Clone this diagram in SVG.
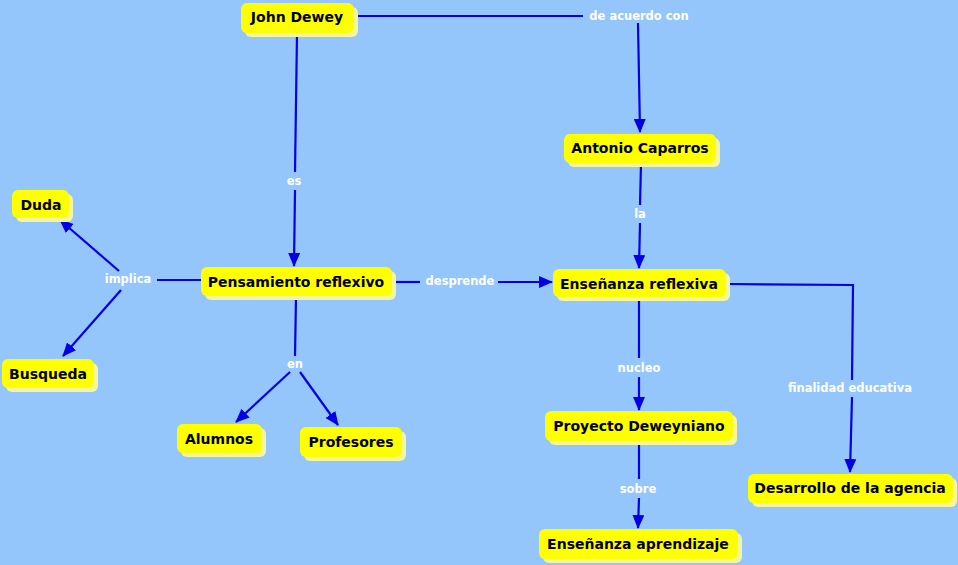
<svg xmlns="http://www.w3.org/2000/svg" width="958" height="565" viewBox="0 0 958 565">
<defs>
<style>
.sh{fill:#F5F59C;}
.bx{fill:#FFFF00;}
.nt{font-family:"DejaVu Sans",Verdana,sans-serif;font-weight:bold;font-size:14px;fill:#000;text-anchor:middle;dominant-baseline:central;}
.lt{font-family:"DejaVu Sans",Verdana,sans-serif;font-weight:bold;font-size:11.5px;fill:#FFFFFF;text-anchor:middle;dominant-baseline:central;}
.ln{stroke:#0000E6;stroke-width:2.2;fill:none;}
.ar{stroke:#0000E6;stroke-width:2.2;fill:none;marker-end:url(#ah);}
</style>
<marker id="ah" viewBox="0 0 14 12" refX="13" refY="6" markerWidth="14" markerHeight="12" markerUnits="userSpaceOnUse" orient="auto">
<path d="M0,0 L14,6 L0,12 Z" fill="#0000E6"/>
</marker>
</defs>
<rect width="958" height="565" fill="#95C6FB"/>
<g id="connectors">
<path class="ln" d="M355,16 L583,16"/>
<path class="ar" d="M638,23 L640,132"/>
<path class="ln" d="M297,34 L295,172"/>
<path class="ar" d="M295,190 L294,266"/>
<path class="ln" d="M641,164 L640,205"/>
<path class="ar" d="M640,223 L639,268"/>
<path class="ln" d="M201,280 L157,280"/>
<path class="ar" d="M119,271 L60,220"/>
<path class="ar" d="M121,290 L63,356"/>
<path class="ln" d="M393,282 L420,282"/>
<path class="ar" d="M498,282 L552,282"/>
<path class="ln" d="M296,297 L295,356"/>
<path class="ar" d="M290,372 L236,422"/>
<path class="ar" d="M300,372 L338,425"/>
<path class="ln" d="M639,298 L639,358"/>
<path class="ar" d="M639,377 L639,410"/>
<path class="ln" d="M639,443 L639,479"/>
<path class="ar" d="M639,498 L638,528"/>
<path class="ln" d="M727,284 L853,285 L852,380"/>
<path class="ar" d="M852,397 L850,472"/>
</g>
<g id="labels">
<text class="lt" x="639" y="16">de acuerdo con</text>
<text class="lt" x="294" y="181">es</text>
<text class="lt" x="640" y="214">la</text>
<text class="lt" x="128" y="279">implica</text>
<text class="lt" x="460" y="281">desprende</text>
<text class="lt" x="295" y="364">en</text>
<text class="lt" x="639" y="368">nucleo</text>
<text class="lt" x="638" y="489">sobre</text>
<text class="lt" x="850" y="388">finalidad educativa</text>
</g>
<g id="n-john-dewey"><rect class="sh" x="245" y="7" width="113" height="30" rx="6"/><rect class="bx" x="241" y="3" width="113" height="30" rx="6"/><text class="nt" x="297" y="17">John Dewey</text></g>
<g id="n-pensamiento"><rect class="sh" x="205" y="271" width="191" height="29" rx="6"/><rect class="bx" x="201" y="267" width="191" height="29" rx="6"/><text class="nt" x="296" y="282">Pensamiento reflexivo</text></g>
<g id="n-antonio"><rect class="sh" x="568" y="138" width="152" height="29" rx="6"/><rect class="bx" x="564" y="134" width="152" height="29" rx="6"/><text class="nt" x="640" y="148">Antonio Caparros</text></g>
<g id="n-ensenanza-reflexiva"><rect class="sh" x="557" y="273" width="173" height="28" rx="6"/><rect class="bx" x="553" y="269" width="173" height="28" rx="6"/><text class="nt" x="639" y="284">Enseñanza reflexiva</text></g>
<g id="n-duda"><rect class="sh" x="16" y="194" width="57" height="28" rx="6"/><rect class="bx" x="12" y="190" width="57" height="28" rx="6"/><text class="nt" x="41" y="205">Duda</text></g>
<g id="n-busqueda"><rect class="sh" x="6" y="363" width="92" height="29" rx="6"/><rect class="bx" x="2" y="359" width="92" height="29" rx="6"/><text class="nt" x="48" y="374">Busqueda</text></g>
<g id="n-alumnos"><rect class="sh" x="181" y="428" width="85" height="29" rx="6"/><rect class="bx" x="177" y="424" width="85" height="29" rx="6"/><text class="nt" x="219" y="439">Alumnos</text></g>
<g id="n-profesores"><rect class="sh" x="304" y="431" width="102" height="30" rx="6"/><rect class="bx" x="300" y="427" width="102" height="30" rx="6"/><text class="nt" x="351" y="442">Profesores</text></g>
<g id="n-proyecto"><rect class="sh" x="549" y="415" width="188" height="30" rx="6"/><rect class="bx" x="545" y="411" width="188" height="30" rx="6"/><text class="nt" x="639" y="426">Proyecto Deweyniano</text></g>
<g id="n-ensenanza-aprendizaje"><rect class="sh" x="543" y="533" width="199" height="30" rx="6"/><rect class="bx" x="539" y="529" width="199" height="30" rx="6"/><text class="nt" x="638" y="544">Enseñanza aprendizaje</text></g>
<g id="n-desarrollo"><rect class="sh" x="752" y="478" width="205" height="29" rx="6"/><rect class="bx" x="748" y="474" width="205" height="29" rx="6"/><text class="nt" x="850" y="488">Desarrollo de la agencia</text></g>
</svg>
